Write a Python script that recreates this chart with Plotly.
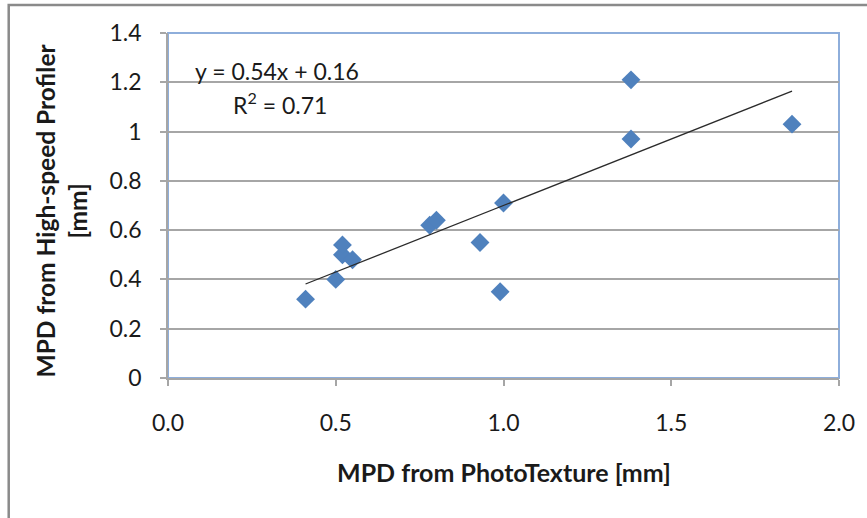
import numpy as np
import plotly.graph_objects as go

# Data
photo_texture = [0.41, 0.50, 0.52, 0.52, 0.55, 0.78, 0.80, 0.93, 0.99, 1.00, 1.38, 1.38, 1.86]
high_speed = [0.32, 0.40, 0.50, 0.54, 0.48, 0.62, 0.64, 0.55, 0.35, 0.71, 1.21, 0.97, 1.03]

trend_slope = 0.54
trend_intercept = 0.16
r_squared = 0.71

x_ticks = [0.0, 0.5, 1.0, 1.5, 2.0]
y_ticks = [0, 0.2, 0.4, 0.6, 0.8, 1.0, 1.2, 1.4]

FONT = "Lato"
GRID = "#a6a6a6"

trend_x = np.array([min(photo_texture), max(photo_texture)])
trend_y = trend_slope * trend_x + trend_intercept

fig = go.Figure()
fig.add_trace(go.Scatter(
    x=photo_texture, y=high_speed, mode="markers",
    marker=dict(symbol="diamond", size=14.5, color="#4F81BD", line=dict(width=0)),
    showlegend=False, hoverinfo="x+y"))
fig.add_trace(go.Scatter(
    x=trend_x, y=trend_y, mode="lines",
    line=dict(color="#2b2b2b", width=1.3), showlegend=False, hoverinfo="skip"))

fig.update_layout(
    width=867, height=518,
    margin=dict(l=168, r=25, t=33, b=140, pad=0),
    paper_bgcolor="white", plot_bgcolor="white",
    font=dict(family=FONT, size=22, color="#1a1a1a"),
    xaxis=dict(range=[0, 2.0], tickvals=x_ticks, tickformat=".1f",
               showgrid=False, zeroline=False,
               showline=True, linecolor=GRID, linewidth=1.5,
               ticks="outside", ticklen=6, tickcolor=GRID, tickwidth=1.5,
               ticklabelstandoff=18, tickfont=dict(family=FONT, size=23)),
    yaxis=dict(range=[0, 1.4], tickvals=y_ticks,
               showgrid=True, gridcolor=GRID, gridwidth=1.5, zeroline=False,
               showline=True, linecolor=GRID, linewidth=1.5,
               ticks="outside", ticklen=6, tickcolor=GRID, tickwidth=1.5,
               ticklabelstandoff=14, tickfont=dict(family=FONT, size=23)),
    shapes=[
        # plot-area border (blue, top/right visible)
        dict(type="rect", xref="paper", yref="paper", x0=0, y0=0, x1=1, y1=1,
             line=dict(color="#8eaedb", width=2), layer="below"),
        # outer chart border
        dict(type="rect", xref="paper", yref="paper",
             x0=(8 - 168) / 674, y0=(378 - 530) / 345,
             x1=(880 - 168) / 674, y1=(378 - 5) / 345,
             line=dict(color="#8a8a8a", width=2.5), layer="below"),
    ],
    annotations=[
        dict(text=f"y = {trend_slope}x + {trend_intercept}", xref="paper", yref="paper",
             x=(193 - 168) / 674, y=(378 - 71) / 345, xanchor="left", yanchor="middle",
             showarrow=False, font=dict(family=FONT, size=23, color="#1a1a1a")),
        dict(text=f"R<sup>2</sup> = {r_squared}", xref="paper", yref="paper",
             x=(231 - 168) / 674, y=(378 - 103) / 345, xanchor="left", yanchor="middle",
             showarrow=False, font=dict(family=FONT, size=23, color="#1a1a1a")),
        dict(text="<b>MPD from PhotoTexture [mm]</b>", xref="paper", yref="paper",
             x=0.5, y=(378 - 472) / 345, xanchor="center", yanchor="middle",
             showarrow=False, font=dict(family=FONT, size=25, color="#1a1a1a")),
        dict(text="<b>MPD from High-speed Profiler<br>[mm]</b>", xref="paper", yref="paper",
             x=(62 - 168) / 674, y=(378 - 210) / 345, xanchor="center", yanchor="middle",
             textangle=-90, showarrow=False,
             font=dict(family=FONT, size=24.5, color="#1a1a1a")),
    ],
)

fig.write_html("out.html")
